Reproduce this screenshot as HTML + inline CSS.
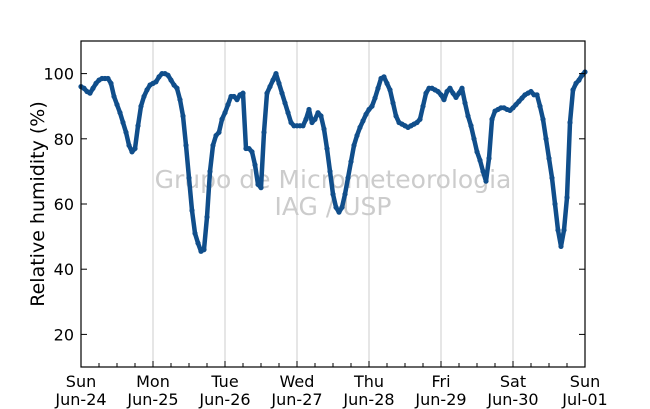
<!DOCTYPE html>
<html><head><meta charset="utf-8"><style>
html,body{margin:0;padding:0;background:#fff;}
svg{display:block;font-family:"DejaVu Sans","Liberation Sans",sans-serif;}
</style></head><body>
<svg id="chart" width="650" height="409" viewBox="0 0 650 409" xmlns="http://www.w3.org/2000/svg">
<g id="grid"></g>
<text x="333" y="188" text-anchor="middle" font-size="25" fill="#cccccc">Grupo de Micrometeorologia</text>
<text x="333" y="215" text-anchor="middle" font-size="25" fill="#cccccc">IAG / USP</text>
<g id="series"></g>
<rect x="81" y="41" width="504" height="326" fill="none" stroke="#000" stroke-width="1.2"/>
<g id="axes"></g>
<text transform="translate(44,204) rotate(-90)" text-anchor="middle" font-size="19" fill="#000">Relative humidity (%)</text>
</svg>
<script>
const dayNames = ["Sun","Mon","Tue","Wed","Thu","Fri","Sat","Sun"];
const dayDates = ["Jun-24","Jun-25","Jun-26","Jun-27","Jun-28","Jun-29","Jun-30","Jul-01"];
const yTicks = [20,40,60,80,100];
// hourly relative humidity (%) from Jun-24 00h
const rhSun = [96,95.5,94.5,94,95.5,97,98,98.5,98.5,98.5,97,93,90.5,88,85,82,78,76,77,84,90,93,95,96.5];
const rhMon = [97,97.5,99,100,100,99.5,98,96.5,95.5,92,87,78,68,58,51,48,45.5,46,56,70,78,81,82,86];
const rhTue = [88,90.5,93,93,92,93.5,94,77,77,76,72,66,65,82,94,96,98,100,97,94,91,88,85,84];
const rhWed = [84,84,84,86,89,85,86,88,87,83,77,70,63,59,57.5,59,63,68,73,78,81,83.5,85.5,87.5];
const rhThu = [89,90,92.5,95.5,98.5,99,97,95,91,87,85,84.5,84,83.5,84,84.5,85,86,90,94,95.5,95.5,95,94.5];
const rhFri = [93.5,92,94.5,95.5,94,92.7,94,95.5,91,87,84,80,76,73.4,70,67,74,86,88.5,89,89.5,89.5,89,88.7];
const rhSat = [89.5,90.5,91.5,92.5,93.5,94,94.5,93.5,93.5,90,86,80,74,68,60,52,47,52,62,85,95,97,98,99.5,100.5];

const NS="http://www.w3.org/2000/svg";
const X0=81,X1=585,Y0=367,Y1=41,YMIN=10,YMAX=110,DAYS=7;
const xs=h=>X0+(X1-X0)*h/(DAYS*24);
const ys=v=>Y0-(Y0-Y1)*(v-YMIN)/(YMAX-YMIN);
function mk(tag,attrs,parent){const e=document.createElementNS(NS,tag);for(const k in attrs)e.setAttribute(k,attrs[k]);parent.appendChild(e);return e;}
const grid=document.getElementById('grid'),axes=document.getElementById('axes'),series=document.getElementById('series');
for(let d=1;d<DAYS;d++){
  const g=mk('line',{x1:xs(d*24),x2:xs(d*24),y1:Y1,y2:Y0,stroke:'#cccccc','stroke-width':1},grid);
  
  
}
for(let h=0;h<=DAYS*24;h+=6){
  const len=(h%24===0)?6:4;
  const t=mk('line',{x1:xs(h),x2:xs(h),y1:Y0,y2:Y0-len,stroke:'#000','stroke-width':1},axes);
  
  
}
dayNames.forEach((n,i)=>{
  const t=mk('text',{x:xs(i*24),y:387,'text-anchor':'middle','font-size':16,fill:'#000'},axes);
  t.textContent=n;
  
  
  const t2=mk('text',{x:xs(i*24),y:405,'text-anchor':'middle','font-size':16,fill:'#000'},axes);
  t2.textContent=dayDates[i];
  
  
});
yTicks.forEach(v=>{
  const l=mk('line',{x1:X0,x2:X0+6,y1:ys(v),y2:ys(v),stroke:'#000','stroke-width':1},axes);
  
  
  const l2=mk('line',{x1:X1,x2:X1-6,y1:ys(v),y2:ys(v),stroke:'#000','stroke-width':1},axes);
  
  
  const t=mk('text',{x:74,y:ys(v)+6,'text-anchor':'end','font-size':16,fill:'#000'},axes);
  t.textContent=v;
  
  
});
const all=[].concat(rhSun,rhMon,rhTue,rhWed,rhThu,rhFri,rhSat);
const pts=all.map((v,i)=>xs(i).toFixed(1)+','+ys(v).toFixed(1)).join(' ');
const pl=mk('polyline',{points:pts,fill:'none',stroke:'#104e8b','stroke-width':4.5,'stroke-linejoin':'round'},series);


all.forEach((v,i)=>{
  const c=mk('circle',{cx:xs(i),cy:ys(v),r:2.6,fill:'#104e8b'},series);
  
  
});
</script>
</body></html>
